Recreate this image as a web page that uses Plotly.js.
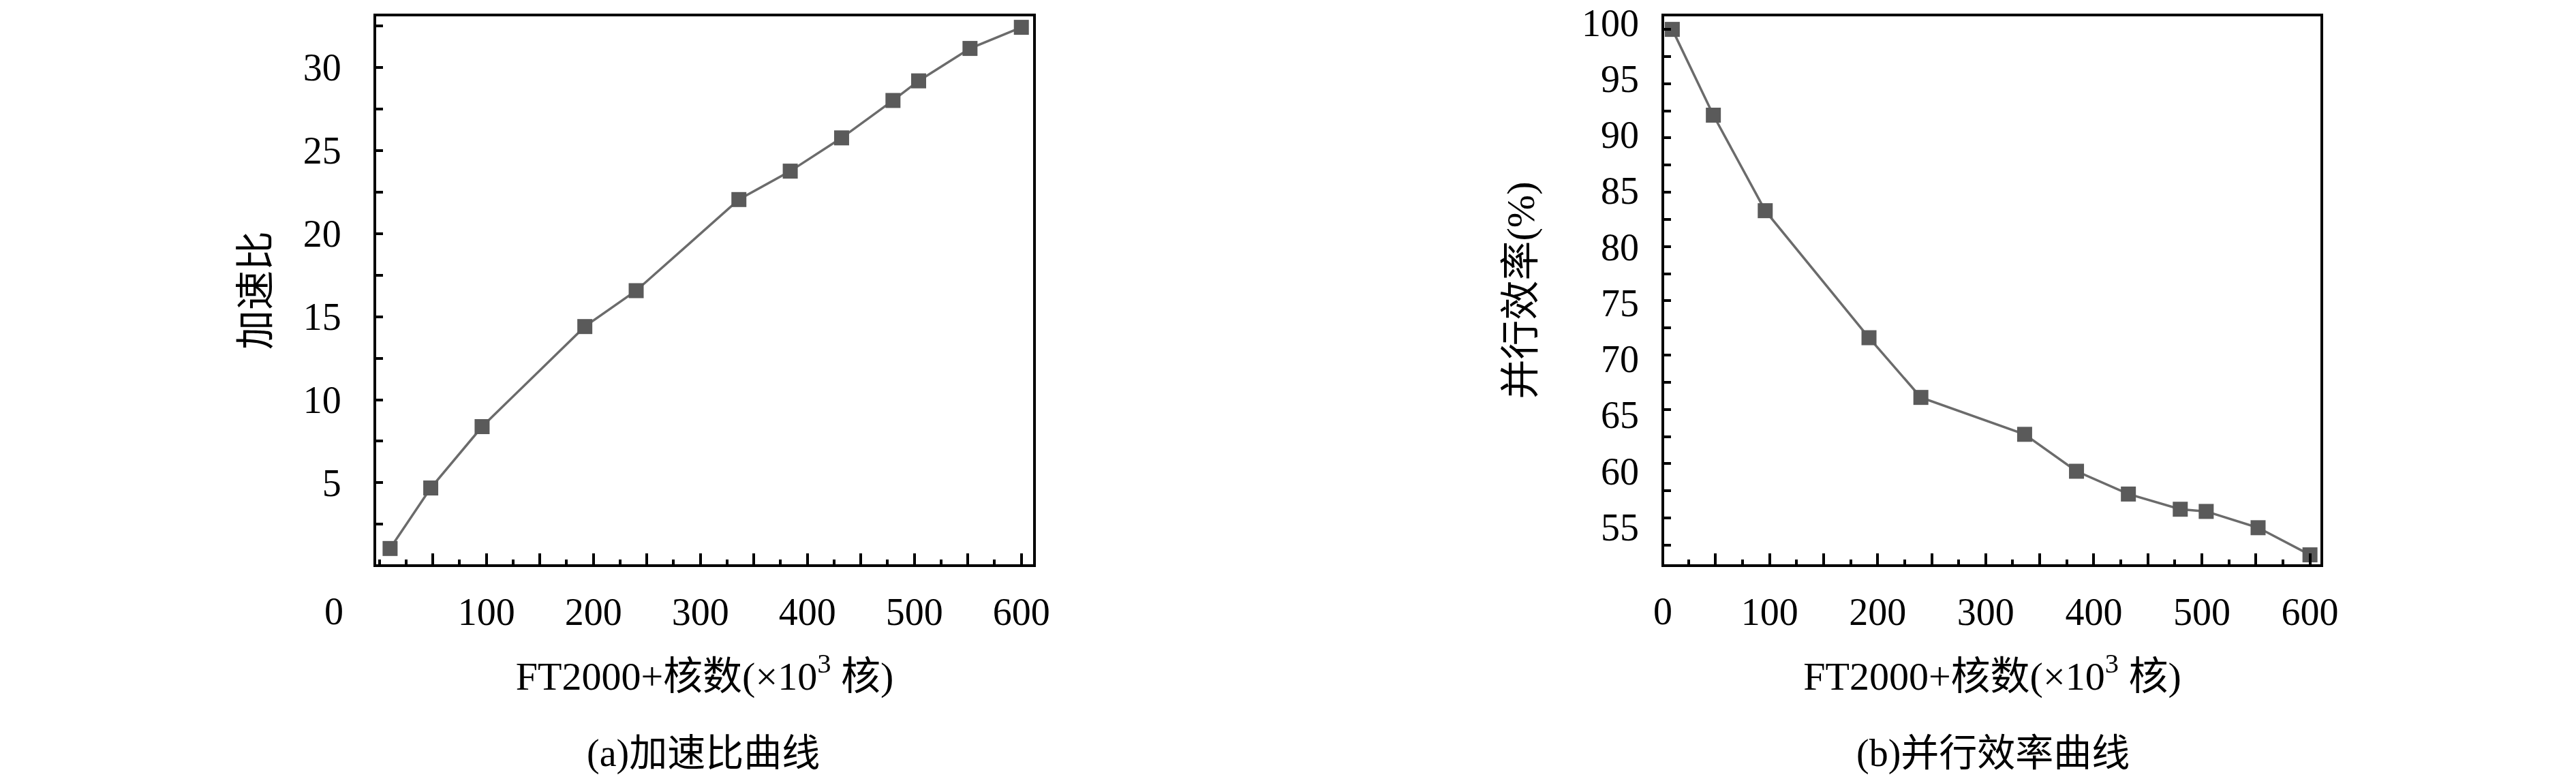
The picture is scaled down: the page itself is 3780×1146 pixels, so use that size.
<!DOCTYPE html>
<html>
<head>
<meta charset="utf-8">
<script src="https://cdn.plot.ly/plotly-3.0.1.min.js"></script>
<style>
  html, body { margin: 0; padding: 0; background: #fff; }
  #chart { width: 3780px; height: 1146px; }
</style>
</head>
<body>
<div id="chart"></div>
<script>
// core counts (x10^3) shared by both panels
const cores = [10, 48, 96, 192, 240, 336, 384, 432, 480, 504, 552, 600];
// (a) speedup
const speedup = [1.05, 4.69, 8.38, 14.40, 16.56, 22.04, 23.75, 25.75, 28.0, 29.18, 31.13, 32.4];
// (b) parallel efficiency, %
const efficiency = [100.0, 92.1, 83.3, 71.6, 66.1, 62.7, 59.3, 57.2, 55.8, 55.6, 54.1, 51.6];

const xLabelVals = [100, 200, 300, 400, 500, 600];
const xHalfVals = [50, 150, 250, 350, 450, 550];
const yTickValsA = [5, 10, 15, 20, 25, 30];
const yTickValsB = [55, 60, 65, 70, 75, 80, 85, 90, 95, 100];

const FONT = '"Liberation Serif", "Noto Sans CJK SC", serif';
const W = 3780, H = 1146;

const lineStyle = { color: '#6b6b6b', width: 3.5 };
const markerStyle = { symbol: 'square', size: 22, color: '#5a5a5a' };

const traces = [
    {
        x: cores, y: speedup, type: 'scatter', mode: 'lines+markers',
        line: lineStyle, marker: markerStyle, xaxis: 'x', yaxis: 'y', showlegend: false
    },
    {
        x: cores, y: efficiency, type: 'scatter', mode: 'lines+markers',
        line: lineStyle, marker: markerStyle, xaxis: 'x2', yaxis: 'y2', showlegend: false
    }
];

// transparent copies so that the helper axes get drawn
[['x3', 'y', speedup], ['x4', 'y2', efficiency], ['x2', 'y4', efficiency]].forEach(function (a) {
    traces.push({
        x: cores, y: a[2], type: 'scatter', mode: 'markers', opacity: 0,
        hoverinfo: 'skip', xaxis: a[0], yaxis: a[1], showlegend: false
    });
});

const tickFont = { family: FONT, size: 56, color: '#000' };
const titleFont = { family: FONT, size: 58, color: '#000' };
const xTitle = 'FT2000+核数(×10<sup>3</sup> 核)';

// main x axis: labelled ticks at the hundreds, small ticks every 25
function xAxis(domain, range, anchor) {
    return {
        domain: domain, range: range, anchor: anchor,
        tickmode: 'array', tickvals: xLabelVals,
        ticks: 'inside', ticklen: 16, tickwidth: 4, tickcolor: '#000',
        minor: { dtick: 25, tick0: 0, ticks: 'inside', ticklen: 7, tickwidth: 4, tickcolor: '#000' },
        showline: true, linewidth: 4, linecolor: '#000', mirror: true,
        showgrid: false, zeroline: false,
        ticklabelstandoff: 18, ticklabeloverflow: 'allow',
        tickfont: tickFont,
        title: { text: xTitle, font: titleFont, standoff: 44 }
    };
}

// overlay that only adds the long unlabelled ticks at the fifties
function xHalfAxis(over, domain, range, anchor) {
    return {
        overlaying: over, domain: domain, range: range, anchor: anchor,
        tickmode: 'array', tickvals: xHalfVals, showticklabels: false,
        ticks: 'inside', ticklen: 16, tickwidth: 4, tickcolor: '#000',
        showline: false, showgrid: false, zeroline: false
    };
}

function yAxis(domain, range, vals, anchor, labels, title) {
    const ax = {
        domain: domain, range: range, anchor: anchor,
        tickmode: 'array', tickvals: vals, showticklabels: labels,
        ticks: 'inside', ticklen: 10, tickwidth: 4, tickcolor: '#000',
        minor: { dtick: 2.5, tick0: 0, ticks: 'inside', ticklen: 10, tickwidth: 4, tickcolor: '#000' },
        showline: true, linewidth: 4, linecolor: '#000', mirror: true,
        showgrid: false, zeroline: false,
        ticklabelstandoff: 36, ticklabeloverflow: 'allow',
        tickfont: tickFont
    };
    if (title) ax.title = { text: title, font: titleFont, standoff: 31 };
    return ax;
}

const yDom = [1 - 828 / H, 1 - 24 / H];

function note(text, px, py) {
    return {
        text: text, xref: 'paper', yref: 'paper', x: px / W, y: 1 - py / H,
        xanchor: 'center', yanchor: 'middle', showarrow: false,
        font: { family: FONT, size: 56, color: '#000' }
    };
}

const domA = [552 / W, 1516 / W], domB = [2442 / W, 3405 / W];
const rangeA = [-3, 611], rangeB = [2.5, 609.7];

const layout = {
    width: W, height: H,
    margin: { l: 0, r: 0, t: 0, b: 0 },
    paper_bgcolor: '#fff', plot_bgcolor: '#fff',
    xaxis: xAxis(domA, rangeA, 'y'),
    yaxis: yAxis(yDom, [0.1, 33.06], yTickValsA, 'x', true, '加速比'),
    xaxis2: xAxis(domB, rangeB, 'y2'),
    yaxis2: yAxis(yDom, [50.73, 101.2], yTickValsB, 'x2', false, null),
    xaxis3: xHalfAxis('x', domA, rangeA, 'y'),
    xaxis4: xHalfAxis('x2', domB, rangeB, 'y2'),
    // labels of panel (b) sit on a slightly wider spacing than its ticks
    yaxis4: {
        overlaying: 'y2', domain: yDom, range: [51.67, 100.55], anchor: 'x2',
        tickmode: 'array', tickvals: yTickValsB, ticks: '',
        showline: false, showgrid: false, zeroline: false,
        ticklabelstandoff: 36, ticklabeloverflow: 'allow', tickfont: tickFont,
        title: { text: '并行效率(%)', font: titleFont, standoff: 50 }
    },
    annotations: [
        note('0', 490, 897),
        note('0', 2440, 897),
        note('(a)加速比曲线', 1032, 1105),
        note('(b)并行效率曲线', 2924, 1105)
    ]
};

Plotly.newPlot('chart', traces, layout, { staticPlot: true });
</script>
</body>
</html>
